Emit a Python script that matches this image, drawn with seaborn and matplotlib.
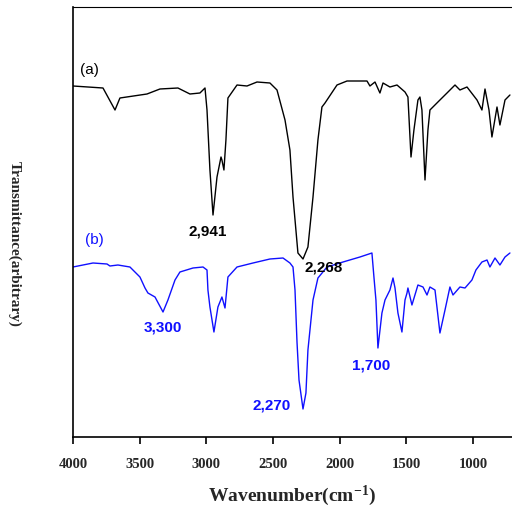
import numpy as np
import pandas as pd
import seaborn as sns
import matplotlib
matplotlib.use("Agg")
import matplotlib.pyplot as plt

# spectrum (a) - black
wn_a = [4000, 3775, 3685, 3648, 3445, 3348, 3213, 3123, 3048, 3010, 2995, 2973, 2950, 2920, 2890,
        2883, 2868, 2853, 2838, 2770, 2695, 2620, 2523, 2470, 2410, 2373, 2350, 2313, 2275, 2238,
        2200, 2163, 2133, 2110, 2020, 1945, 1795, 1773, 1735, 1698, 1675, 1623, 1570, 1510, 1488,
        1465, 1443, 1413, 1398, 1383, 1360, 1338, 1323, 1248, 1195, 1135, 1098, 1045, 970, 933,
        910, 880, 858, 820, 798, 760, 723]
tr_a = [351, 349, 327, 339, 343, 348, 349, 343, 344, 349, 327, 267, 222, 260, 280,
        277, 267, 297, 339, 352, 351, 355, 354, 347, 317, 287, 240, 184, 178, 190,
        240, 297, 330, 334, 352, 356, 356, 351, 355, 344, 354, 350, 352, 345, 340,
        280, 307, 337, 340, 327, 257, 307, 327, 337, 344, 352, 347, 350, 337, 327,
        348, 327, 300, 330, 312, 337, 342]

# spectrum (b) - blue
wn_b = [4000, 3850, 3745, 3723, 3663, 3573, 3498, 3460, 3438, 3385, 3325, 3288, 3235, 3198, 3100,
        3025, 2995, 2988, 2973, 2943, 2913, 2883, 2860, 2845, 2838, 2770, 2650, 2523, 2425, 2373,
        2350, 2335, 2320, 2305, 2275, 2253, 2238, 2200, 2163, 2095, 1975, 1848, 1758, 1743, 1728,
        1713, 1683, 1660, 1623, 1600, 1585, 1563, 1533, 1510, 1495, 1488, 1458, 1413, 1375, 1345,
        1323, 1285, 1248, 1210, 1173, 1150, 1098, 1060, 1008, 978, 933, 895, 873, 835, 798,
        760, 723]
tr_b = [170, 174, 173, 171, 172, 170, 160, 149, 144, 140, 125, 137, 157, 165, 169,
        170, 167, 147, 130, 105, 130, 140, 129, 150, 160, 170, 174, 178, 179, 174,
        170, 147, 95, 57, 28, 44, 87, 137, 159, 170, 175, 180, 184, 160, 137,
        89, 124, 137, 147, 159, 149, 124, 105, 137, 144, 149, 132, 152, 150, 142,
        150, 147, 104, 127, 150, 142, 150, 149, 157, 167, 175, 177, 170, 179, 172,
        180, 184]

xticks = [4000, 3500, 3000, 2500, 2000, 1500, 1000]

df_a = pd.DataFrame({'wn': wn_a, 'T': tr_a})
df_b = pd.DataFrame({'wn': wn_b, 'T': tr_b})

sns.set_style('ticks')
plt.rcParams['mathtext.fontset'] = 'custom'
plt.rcParams['mathtext.rm'] = 'Liberation Serif:bold'
plt.rcParams['mathtext.default'] = 'rm'

fig = plt.figure(figsize=(5.12, 5.09), dpi=100)
ax = fig.add_axes([73 / 512, 72 / 509, 439 / 512, 430 / 509])

sns.lineplot(data=df_a, x='wn', y='T', sort=False, estimator=None, color='black', lw=1.0, ax=ax)
sns.lineplot(data=df_b, x='wn', y='T', sort=False, estimator=None, color='#1010ff', lw=1.0, ax=ax)

ax.set_xlim(4000, 707.5)
ax.set_ylim(0, 430)
ax.set_yticks([])
ax.set_xticks(xticks)
ax.set_xticklabels([str(t) for t in xticks], fontfamily='Liberation Serif', fontweight='bold', fontsize=10.5)
ax.tick_params(axis='x', direction='out', length=5, width=1.2, pad=10, color='black')
for s in ['left', 'bottom', 'top']:
    ax.spines[s].set_linewidth(1.2)
    ax.spines[s].set_color('black')
ax.spines['top'].set_linewidth(0.8)
ax.spines['right'].set_visible(False)

ax.set_xlabel('Wavenumber(cm$^{-1}$)', fontfamily='Liberation Serif', fontweight='bold',
              fontsize=14, labelpad=9)
ax.set_ylabel('')
fig.text(14 / 512, 0.52, 'Transmittance(arbitrary)', rotation=270, ha='center', va='center',
         fontfamily='Liberation Serif', fontweight='bold', fontsize=11)

sans = 'Liberation Sans'
ax.text(3948, 367, '(a)', fontsize=11, family=sans, color='black', ha='left', va='center')
ax.text(3910, 197, '(b)', fontsize=11, family=sans, color='#1010ff', ha='left', va='center')
ax.text(2988, 205, '2,941', fontsize=11, family=sans, fontweight='bold', color='black', ha='center', va='center')
ax.text(2118, 169, '2,268', fontsize=11, family=sans, fontweight='bold', color='black', ha='center', va='center')
ax.text(3325, 109, '3,300', fontsize=11, family=sans, fontweight='bold', color='#1010ff', ha='center', va='center')
ax.text(2508, 31, '2,270', fontsize=11, family=sans, fontweight='bold', color='#1010ff', ha='center', va='center')
ax.text(1765, 72, '1,700', fontsize=11, family=sans, fontweight='bold', color='#1010ff', ha='center', va='center')

fig.savefig('out.png', dpi=100)
